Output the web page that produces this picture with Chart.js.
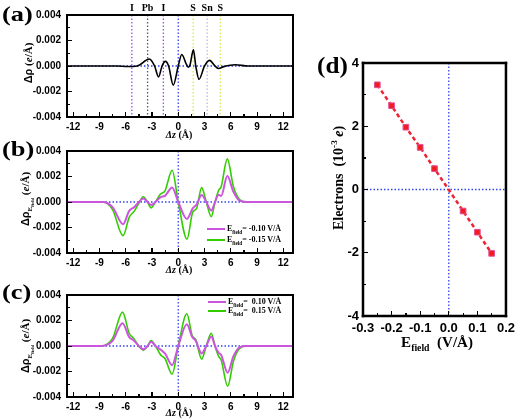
<!DOCTYPE html>
<html>
<head>
<meta charset="utf-8">
<script src="https://cdn.jsdelivr.net/npm/chart.js@4.4.0/dist/chart.umd.min.js"></script>
<style>
body { margin: 0; background: #fff; }
#wrap { position: relative; width: 520px; height: 419px; overflow: hidden; font-family: "Liberation Serif", serif; }
canvas { position: absolute; }
.t { position: absolute; white-space: nowrap; transform: translate(-50%, -50%); font-weight: bold; color: #000; line-height: 1; }
.rot { transform: translate(-50%, -50%) rotate(-90deg); }
.pl { position: absolute; font-weight: bold; font-size: 22px; line-height: 1; transform-origin: left top; }
.lg { position: absolute; font-size: 8px; font-weight: bold; white-space: nowrap; line-height: 1; }
.lg span.ln { display: inline-block; width: 18px; height: 2px; vertical-align: middle; margin-right: 2px; }
.box { position: absolute; border-style: solid; border-color: #000; box-sizing: border-box; pointer-events: none; }
.tk { position: absolute; background: #000; }
sub { font-size: 65%; }
</style>
</head>
<body>
<div id="wrap">
  <canvas id="ca" width="300" height="135" style="left:0;top:0"></canvas>
  <canvas id="cb" width="300" height="135" style="left:0;top:136px"></canvas>
  <canvas id="cc" width="300" height="135" style="left:0;top:280px"></canvas>
  <canvas id="cd" width="220" height="300" style="left:300px;top:40px"></canvas>

  <div class="pl" style="left:2px;top:3px;transform:scaleX(1.2)">(a)</div>
  <div class="pl" style="left:2px;top:138px;transform:scaleX(1.2)">(b)</div>
  <div class="pl" style="left:2px;top:281px;transform:scaleX(1.2)">(c)</div>
  <div class="pl" style="left:317px;top:53px;font-size:24px;transform:scaleX(1.05)">(d)</div>

  <div class="t rot" style="left:28px;top:63px;font-size:11px"><span style="font-family:'Liberation Sans'">Δρ</span> (<i>e</i>/Å)</div>
  <div class="t rot" style="left:28px;top:199px;font-size:11px"><span style="font-family:'Liberation Sans'">Δρ</span><sub>E<sub>field</sub></sub> (<i>e</i>/Å)</div>
  <div class="t rot" style="left:28px;top:346px;font-size:11px"><span style="font-family:'Liberation Sans'">Δρ</span><sub>E<sub>field</sub></sub> (<i>e</i>/Å)</div>
  <div class="t rot" style="left:338px;top:178px;font-size:14px">Electrons&nbsp; (10<sup style="font-size:65%">-3</sup> <i>e</i>)</div>

  <div class="t" style="left:179px;top:135px;font-size:10px"><i>Δz</i> (Å)</div>
  <div class="t" style="left:179px;top:270px;font-size:10px"><i>Δz</i> (Å)</div>
  <div class="t" style="left:179px;top:413px;font-size:10px"><i>Δz</i> (Å)</div>
  <div class="t" style="left:437px;top:344px;font-size:15px">E<sub>field</sub>&nbsp; (V/Å)</div>

  <div class="lg" style="left:207px;top:225px"><span class="ln" style="background:#cc55dd"></span>E<sub>field</sub>= -0.10 V/Å</div>
  <div class="lg" style="left:207px;top:236px"><span class="ln" style="background:#33cc00"></span>E<sub>field</sub>= -0.15 V/Å</div>
  <div class="lg" style="left:208px;top:298px"><span class="ln" style="background:#cc55dd"></span>E<sub>field</sub>= &nbsp;0.10 V/Å</div>
  <div class="lg" style="left:208px;top:307px"><span class="ln" style="background:#33cc00"></span>E<sub>field</sub>= &nbsp;0.15 V/Å</div>
</div>
<script>
// (a) charge density difference, no field
var aZ = [-12.7, -7, -5.8, -4.7, -3.3, -2.7, -2.25, -1.85, -1.47, -1.1, -0.57, 0, 0.4, 0.95, 1.16, 1.35, 1.73, 2.0, 2.37, 3.0, 3.57, 4.2, 4.6, 5.2, 6.5, 8, 13.1];
var aRho = [0, 0, -0.00004, 0, 0.00055, 0, -0.00086, 0, 0.00036, 0, -0.0015, 0, 0.0009, 0.0001, -0.0001, 0.0001, 0.00127, 0, -0.00104, 0, 0.00044, 0, -0.0002, -0.00005, 0.0001, 0, 0];

// atoms marked in (a)
var atomPos = [-5.3, -3.5, -1.7, 1.7, 3.3, 4.8];
var atomNames = ['I', 'Pb', 'I', 'S', 'Sn', 'S'];
var atomColors = ['#9b4dff', '#4a5a6a', '#9b4dff', '#ccee55', '#b8c0cc', '#ccee55'];

// (b) negative fields
var bZ = [-12.7, -8.6, -7.5, -6.3, -5.6, -5.0, -4.5, -4.0, -3.5, -3.1, -2.6, -2.05, -1.5, -0.7, 0, 1.0, 1.65, 2.1, 2.67, 3.2, 3.77, 4.2, 4.6, 4.9, 5.6, 6.3, 7.0, 7.8, 13.1];
var bM10 = [0, 0, -0.0004, -0.00174, -0.0007, -0.0004, 0, 0.00028, 0, -0.00023, 0, 0.00036, 0.0005, 0.00113, 0, -0.00133, -0.0005, -0.0002, 0.00054, 0, -0.00067, 0, 0.00056, 0.00048, 0.00203, 0.0008, 0.0001, 0, 0];
var bM15 = [0, 0, -0.0006, -0.00264, -0.0012, -0.0007, -0.0001, 0.00041, 0, -0.00046, 0, 0.0006, 0.0009, 0.00249, 0, -0.00292, -0.0008, -0.0005, 0.00113, 0, -0.00115, 0, 0.0009, 0.0012, 0.00338, 0.0012, 0.0002, 0, 0];

// (c) positive fields
var cZ = [-12.7, -8.8, -7.5, -6.36, -5.6, -5.1, -4.5, -4.0, -3.5, -3.1, -2.6, -2.0, -1.5, -0.7, 0, 0.98, 1.6, 2.0, 2.67, 3.2, 3.77, 4.2, 4.6, 4.9, 5.64, 6.3, 7.0, 7.8, 13.1];
var cP10 = [0, 0, 0.0004, 0.00179, 0.0007, 0.00045, 0, -0.00026, 0, 0.00034, 0, -0.0003, -0.0006, -0.0015, 0, 0.00171, 0.0007, 0.0004, -0.00058, 0, 0.00074, 0, -0.00053, -0.0007, -0.0021, -0.0008, -0.0001, 0, 0];
var cP15 = [0, 0, 0.0006, 0.00266, 0.001, 0.0006, 0, -0.00032, 0, 0.00042, 0, -0.0007, -0.001, -0.0022, 0, 0.00253, 0.0008, 0.0005, -0.00103, 0, 0.001, 0, -0.0008, -0.0011, -0.00316, -0.0012, -0.0002, 0, 0];

// (d) transferred electrons vs field
var eField = [-0.25, -0.2, -0.15, -0.1, -0.05, 0.05, 0.1, 0.15];
var electrons = [3.31, 2.65, 1.97, 1.33, 0.66, -0.68, -1.35, -2.02];

var zTicks = [-12, -9, -6, -3, 0, 3, 6, 9, 12];
var rhoTicks = [-0.004, -0.002, 0, 0.002, 0.004];
var fTicks = [-0.3, -0.2, -0.1, 0, 0.1, 0.2];
var eTicks = [-4, -2, 0, 2, 4];

function pts(xs, ys) {
  return xs.map(function (x, i) { return { x: x, y: ys[i] }; });
}
function mids(t) {
  var m = [];
  for (var i = 0; i < t.length - 1; i++) m.push((t[i] + t[i + 1]) / 2);
  return m;
}

// per-canvas settings
var frames = {
  ca: { lw: 2, xMajor: zTicks, yMajor: rhoTicks, atoms: atomPos },
  cb: { lw: 2, xMajor: zTicks, yMajor: rhoTicks, atoms: null },
  cc: { lw: 2, xMajor: zTicks, yMajor: rhoTicks, atoms: null },
  cd: { lw: 2.5, xMajor: fTicks, yMajor: eTicks, atoms: null }
};

// dotted zero lines, atom markers, frame
var decor = {
  id: 'decor',
  beforeDatasetsDraw: function (chart) {
    var o = frames[chart.canvas.id];
    var ctx = chart.ctx, a = chart.chartArea, sx = chart.scales.x, sy = chart.scales.y;
    ctx.save();
    ctx.lineWidth = 1.3;
    ctx.setLineDash([1.5, 2]);
    (o.atoms || []).forEach(function (p, i) {
      var px = sx.getPixelForValue(p);
      ctx.strokeStyle = atomColors[i];
      ctx.beginPath(); ctx.moveTo(px, a.top); ctx.lineTo(px, a.bottom); ctx.stroke();
    });
    ctx.strokeStyle = '#3344ee';
    var x0 = sx.getPixelForValue(0), y0 = sy.getPixelForValue(0);
    ctx.beginPath(); ctx.moveTo(a.left, y0); ctx.lineTo(a.right, y0); ctx.stroke();
    ctx.beginPath(); ctx.moveTo(x0, a.top); ctx.lineTo(x0, a.bottom); ctx.stroke();
    ctx.restore();

    ctx.save();
    ctx.fillStyle = '#000';
    var w = o.lw, h = w / 2;
    ctx.fillRect(a.left - h, a.top - h, a.right - a.left + w, w);
    ctx.fillRect(a.left - h, a.bottom - h, a.right - a.left + w, w);
    ctx.fillRect(a.left - h, a.top - h, w, a.bottom - a.top + w);
    ctx.fillRect(a.right - h, a.top - h, w, a.bottom - a.top + w);
    if (o.atoms) {
      ctx.font = 'bold 10px "Liberation Serif"';
      ctx.textAlign = 'center';
      ctx.textBaseline = 'middle';
      o.atoms.forEach(function (p, i) { ctx.fillText(atomNames[i], sx.getPixelForValue(p), 8); });
    }
    ctx.restore();
  }
};

// frame and inward ticks as page elements, placed from the chart's scales
function addFrame(chart) {
  var o = frames[chart.canvas.id];
  var wrap = document.getElementById('wrap');
  var ox = chart.canvas.offsetLeft, oy = chart.canvas.offsetTop;
  var a = chart.chartArea, sx = chart.scales.x, sy = chart.scales.y, h = o.lw / 2;
  function el(cls, l, t, w, hh, bw) {
    var d = document.createElement('div');
    d.className = cls;
    d.style.left = l + 'px'; d.style.top = t + 'px';
    d.style.width = w + 'px'; d.style.height = hh + 'px';
    if (bw) d.style.borderWidth = bw + 'px';
    wrap.appendChild(d);
  }
  el('box', ox + a.left - h, oy + a.top - h, a.right - a.left + o.lw, a.bottom - a.top + o.lw, o.lw);
  o.xMajor.forEach(function (v) { el('tk', ox + sx.getPixelForValue(v) - 0.5, oy + a.bottom - 5, 1.2, 5); });
  mids(o.xMajor).forEach(function (v) { el('tk', ox + sx.getPixelForValue(v) - 0.5, oy + a.bottom - 3, 1.2, 3); });
  o.yMajor.forEach(function (v) { el('tk', ox + a.left, oy + sy.getPixelForValue(v) - 0.5, 5, 1.2); });
  mids(o.yMajor).forEach(function (v) { el('tk', ox + a.left, oy + sy.getPixelForValue(v) - 0.5, 3, 1.2); });
}

function rhoChart(id, datasets) {
  return new Chart(document.getElementById(id), {
    type: 'line',
    data: { datasets: datasets },
    options: {
      responsive: false,
      animation: false,
      layout: { padding: { top: 15, right: 7, bottom: 0, left: 0 } },
      elements: { point: { radius: 0 }, line: { cubicInterpolationMode: 'monotone' } },
      plugins: { legend: { display: false }, tooltip: { enabled: false } },
      scales: {
        x: {
          type: 'linear', min: -12.7, max: 13.1,
          grid: { display: false, drawTicks: false },
          border: { display: false },
          afterBuildTicks: function (s) { s.ticks = zTicks.map(function (v) { return { value: v }; }); },
          afterFit: function (s) { s.height = 18; },
          ticks: { autoSkip: false, maxRotation: 0, padding: 4, color: '#000',
            font: { family: 'Liberation Sans', weight: 'bold', size: 10 },
            callback: function (v) { return String(v); } }
        },
        y: {
          type: 'linear', min: -0.004, max: 0.004,
          grid: { display: false, drawTicks: false },
          border: { display: false },
          afterBuildTicks: function (s) { s.ticks = rhoTicks.map(function (v) { return { value: v }; }); },
          afterFit: function (s) { s.width = 67; },
          ticks: { autoSkip: false, padding: 6, color: '#000',
            font: { family: 'Liberation Sans', weight: 'bold', size: 10 },
            callback: function (v) { return v.toFixed(3); } }
        }
      }
    },
    plugins: [decor]
  });
}

var chA = rhoChart('ca', [
  { data: pts(aZ, aRho), borderColor: '#000', borderWidth: 1.6 }
]);

var chB = rhoChart('cb', [
  { data: pts(bZ, bM10), borderColor: '#cc55dd', borderWidth: 2 },
  { data: pts(bZ, bM15), borderColor: '#33cc00', borderWidth: 1.6 }
]);

var chC = rhoChart('cc', [
  { data: pts(cZ, cP10), borderColor: '#cc55dd', borderWidth: 2 },
  { data: pts(cZ, cP15), borderColor: '#33cc00', borderWidth: 1.6 }
]);

var chD = new Chart(document.getElementById('cd'), {
  type: 'line',
  data: {
    datasets: [{
      data: pts(eField, electrons),
      borderColor: '#ee2233',
      borderWidth: 2.5,
      borderDash: [4, 3],
      pointStyle: 'rect',
      pointRadius: 4,
      pointBackgroundColor: '#f21c1c',
      pointBorderColor: '#e0509a',
      pointBorderWidth: 1
    }]
  },
  options: {
    responsive: false,
    animation: false,
    layout: { padding: { top: 23, right: 11, bottom: 0, left: 0 } },
    plugins: { legend: { display: false }, tooltip: { enabled: false } },
    scales: {
      x: {
        type: 'linear', min: -0.3, max: 0.2,
        grid: { display: false, drawTicks: false },
        border: { display: false },
        afterBuildTicks: function (s) { s.ticks = fTicks.map(function (v) { return { value: v }; }); },
        afterFit: function (s) { s.height = 24; },
        ticks: { autoSkip: false, maxRotation: 0, padding: 5, color: '#000',
          font: { family: 'Liberation Sans', weight: 'bold', size: 13 },
          callback: function (v) { return v.toFixed(1); } }
      },
      y: {
        type: 'linear', min: -4, max: 4,
        grid: { display: false, drawTicks: false },
        border: { display: false },
        afterBuildTicks: function (s) { s.ticks = eTicks.map(function (v) { return { value: v }; }); },
        afterFit: function (s) { s.width = 63; },
        ticks: { autoSkip: false, padding: 4, color: '#000',
          font: { family: 'Liberation Sans', weight: 'bold', size: 13 },
          callback: function (v) { return String(v); } }
      }
    }
  },
  plugins: [decor]
});

[chA, chB, chC, chD].forEach(addFrame);
</script>
</body>
</html>
